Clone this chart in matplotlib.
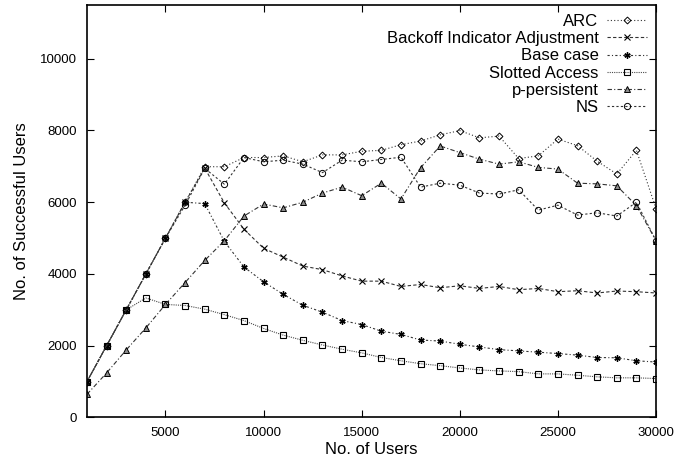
import matplotlib
matplotlib.use('Agg')
import matplotlib.pyplot as plt

users = list(range(1000, 31000, 1000))

arc = [1000, 2000, 3000, 4000, 5000, 6000, 6990, 6990, 7246, 7246,
       7293, 7128, 7320, 7320, 7420, 7447, 7604, 7706, 7879, 7997,
       7796, 7843, 7219, 7293, 7761, 7576, 7144, 6787, 7447, 5824]
bia = [1000, 2000, 3000, 4000, 5000, 6000, 6950, 5981, 5246, 4715,
       4468, 4220, 4119, 3945, 3799, 3799, 3651, 3706, 3615, 3670,
       3596, 3651, 3560, 3596, 3505, 3532, 3469, 3524, 3505, 3469]
base = [1000, 2000, 3000, 4000, 5000, 6000, 5961, 4908, 4193, 3780,
        3431, 3125, 2935, 2699, 2589, 2404, 2314, 2157, 2129, 2039,
        1964, 1890, 1854, 1818, 1780, 1736, 1670, 1662, 1579, 1543]
slotted = [1000, 2000, 3000, 3330, 3150, 3120, 3018, 2864, 2699, 2479,
           2294, 2149, 2019, 1901, 1799, 1670, 1579, 1497, 1442, 1378,
           1323, 1296, 1276, 1213, 1213, 1175, 1131, 1103, 1103, 1084]
ppersist = [644, 1240, 1882, 2495, 3150, 3761, 4377, 4927, 5615, 5950,
            5843, 6000, 6256, 6421, 6182, 6531, 6091, 6963, 7568, 7384,
            7200, 7062, 7128, 6971, 6924, 6531, 6512, 6457, 5906, 4927]
ns = [1000, 2000, 3000, 4000, 5000, 5917, 6944, 6503, 7246, 7128,
      7172, 7062, 6825, 7172, 7128, 7191, 7255, 6421, 6531, 6476,
      6256, 6228, 6347, 5780, 5917, 5642, 5706, 5615, 6000, 4927]

labels = ['ARC', 'Backoff Indicator Adjustment', 'Base case',
          'Slotted Access', 'p-persistent', 'NS']

plt.rcParams['font.family'] = ['Liberation Sans', 'DejaVu Sans']

fig = plt.figure(figsize=(6.75, 4.61), dpi=100)
ax = fig.add_axes([0.1289, 0.0946, 0.8430, 0.8946])

lw = 0.8
ms = 4.5
ax.plot(users, arc, color='0.2', lw=lw, ls=(0, (1, 2)), marker='D', ms=3.5,
        mfc='none', mec='black', mew=0.7, label=labels[0])
ax.plot(users, bia, color='0.2', lw=lw, ls=(0, (3, 2)), marker='x', ms=ms,
        mec='black', mew=0.8, label=labels[1])
ax.plot(users, base, color='0.2', lw=lw, ls=(0, (2, 2, 1, 2)), marker=(6, 2, 0), ms=ms,
        mec='black', mew=1.0, label=labels[2])
ax.plot(users, slotted, color='0.3', lw=lw, ls=(0, (1, 1)), marker='s', ms=ms,
        mfc='none', mec='black', mew=0.8, label=labels[3])
ax.plot(users, ppersist, color='0.2', lw=lw, ls=(0, (4, 2, 1, 2)), marker='^', ms=ms,
        mfc='0.55', mec='black', mew=0.7, label=labels[4])
ax.plot(users, ns, color='0.2', lw=lw, ls=(0, (2, 2)), marker='o', ms=ms,
        mfc='none', mec='black', mew=0.7, label=labels[5])

ax.set_xlim(1000, 30000)
ax.set_ylim(0, 11500)
ax.set_xticks([5000, 10000, 15000, 20000, 25000, 30000])
ax.set_yticks([0, 2000, 4000, 6000, 8000, 10000])
ax.tick_params(direction='in', top=True, right=True, length=5, width=0.8,
               labelsize=9.5, pad=7)
for s in ax.spines.values():
    s.set_linewidth(1.2)

ax.set_xlabel('No. of Users', fontsize=12, labelpad=2)
ax.set_ylabel('No. of Successful Users', fontsize=12, labelpad=8)

leg = ax.legend(loc='upper right', frameon=False, markerfirst=False,
                fontsize=12, labelspacing=0.13, handlelength=2.4,
                handletextpad=0.5, borderaxespad=0.15)
for col in leg._legend_handle_box.get_children():
    col.align = 'right'

fig.savefig('out.png', dpi=100)
